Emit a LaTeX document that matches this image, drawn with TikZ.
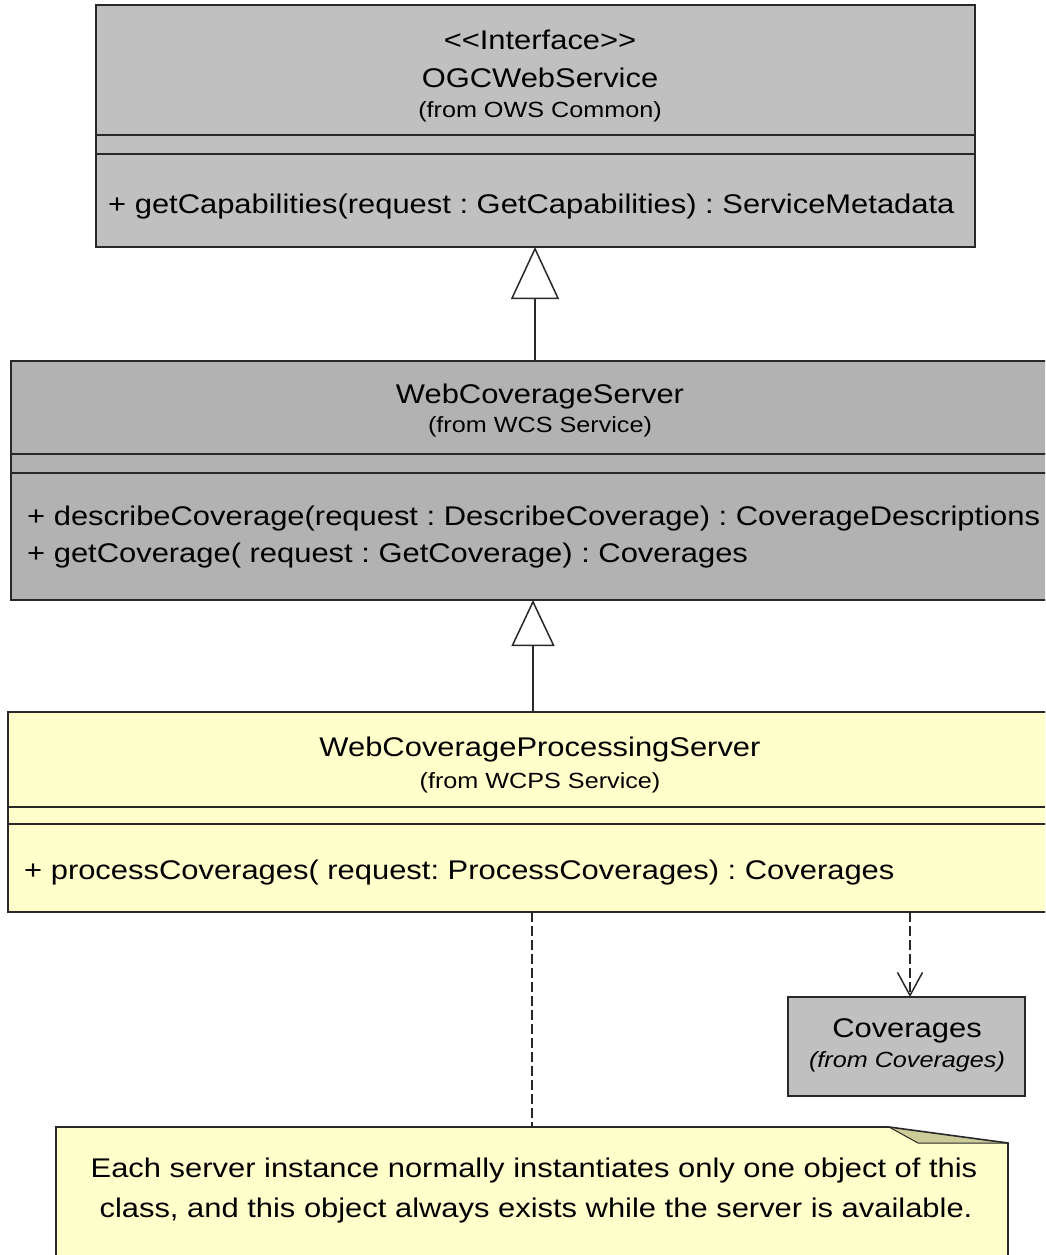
\documentclass[tikz,border=0pt]{standalone}
\usepackage{fontspec}
\setmainfont{Liberation Sans}[FakeStretch=1.145]
\usetikzlibrary{arrows.meta}
\definecolor{boxgray}{RGB}{192,192,192}
\definecolor{boxdark}{RGB}{178,178,178}
\definecolor{noteyellow}{RGB}{255,255,204}
\definecolor{foldcol}{RGB}{204,204,153}
\definecolor{linecol}{RGB}{40,40,40}
\frenchspacing
\begin{document}
\begin{tikzpicture}[x=1pt,y=-1pt,
  classbox/.style={draw=linecol, line width=1.6pt, anchor=north west, outer sep=0pt, inner sep=0pt},
  sepline/.style={draw=linecol, line width=1.6pt},
  big/.style={font=\frenchspacing\fontsize{27}{32}\selectfont, inner sep=0pt, anchor=base},
  small/.style={font=\frenchspacing\fontsize{22}{26}\selectfont, inner sep=0pt, anchor=base},
  member/.style={big, anchor=base west},
  gen1/.style={draw=linecol, line width=1.5pt, -{Triangle[length=52pt,width=48pt,fill=white]}},
  gen2/.style={draw=linecol, line width=1.5pt, -{Triangle[length=46pt,width=43pt,fill=white]}},
  dep/.style={draw=linecol, line width=1.5pt, dash pattern=on 10pt off 4pt, -{Straight Barb[length=23pt,width=25pt]}},
  anchorline/.style={draw=linecol, line width=1.5pt, dash pattern=on 10pt off 4pt}
]
\clip (0,0) rectangle (1045,1255);
\fill[white] (0,0) rectangle (1045,1255);

% class boxes
\node[classbox, fill=boxgray, minimum width=879pt, minimum height=242pt] (ogc) at (96,5) {};
\node[classbox, fill=boxdark, minimum width=1045pt, minimum height=239pt] (wcs) at (11,361) {};
\node[classbox, fill=noteyellow, minimum width=1048pt, minimum height=200pt] (wcps) at (8,712) {};
\node[classbox, fill=boxgray, minimum width=237pt, minimum height=99pt] (cov) at (788,997) {};
\node[anchor=north west, outer sep=0pt, inner sep=0pt, minimum width=952pt, minimum height=140pt] (note) at (56,1127) {};

% compartments
\draw[sepline] (ogc.west |- 0,135) -- (ogc.east |- 0,135);
\draw[sepline] (ogc.west |- 0,154) -- (ogc.east |- 0,154);
\draw[sepline] (wcs.west |- 0,454) -- (wcs.east |- 0,454);
\draw[sepline] (wcs.west |- 0,473) -- (wcs.east |- 0,473);
\draw[sepline] (wcps.west |- 0,807) -- (wcps.east |- 0,807);
\draw[sepline] (wcps.west |- 0,824) -- (wcps.east |- 0,824);

% texts
\node[big] (ogcst) at (540,50) {<\kern0pt<Interface>\kern0pt>};
\node[big] (ogcname) at (540,87) {OGCWebService};
\node[small] (ogcfrom) at (540,117) {(from OWS Common)};
\node[member] (ogcop) at (108,213) {+ getCapabilities(request : GetCapabilities) : ServiceMetadata};

\node[big] (wcsname) at (540,403) {WebCoverageServer};
\node[small] (wcsfrom) at (540,432) {(from WCS Service)};
\node[member] (wcsop1) at (27,525) {+ describeCoverage(request : DescribeCoverage) : CoverageDescriptions};
\node[member] (wcsop2) at (27,562) {+ getCoverage( request : GetCoverage) : Coverages};

\node[big] (wcpsname) at (540,756) {WebCoverageProcessingServer};
\node[small] (wcpsfrom) at (540,788) {(from WCPS Service)};
\node[member] (wcpsop) at (24,879) {+ processCoverages( request: ProcessCoverages) : Coverages};

\node[big] (covname) at (907,1037) {Coverages};
\node[small, font=\fontsize{22}{26}\selectfont\itshape] (covfrom) at (907,1067) {(from Coverages)};

% note shape
\coordinate (fold1) at (889,1127);
\coordinate (fold2) at (918,1143);
\coordinate (fold3) at (1008,1143);
\fill[noteyellow] (note.west |- 0,1270) -- (note.north west) -- (fold1) -- (fold3) -- (note.east |- 0,1270) -- cycle;
\fill[foldcol] (fold1) -- (fold2) -- (fold3) -- cycle;
\draw[linecol, line width=1pt] (fold1) -- (fold2) -- (fold3);
\draw[linecol, line width=1.6pt] (note.west |- 0,1270) -- (note.north west) -- (fold1) -- (fold3) -- (note.east |- 0,1270);
\node[big] (note1) at (534,1177) {Each server instance normally instantiates only one object of this};
\node[big] (note2) at (536,1217) {class, and this object always exists while the server is available.};

% connectors
\coordinate (xa) at (535,0);
\coordinate (xb) at (533,0);
\coordinate (xc) at (532,0);
\coordinate (xd) at (910,0);
\draw[gen1] (xa |- wcs.north) -- (xa |- ogc.south);
\draw[gen2] (xb |- wcps.north) -- (xb |- wcs.south);
\draw[anchorline] (xc |- wcps.south) -- (xc |- note.north);
\draw[dep] (xd |- wcps.south) -- (xd |- cov.north);
\end{tikzpicture}
\end{document}
